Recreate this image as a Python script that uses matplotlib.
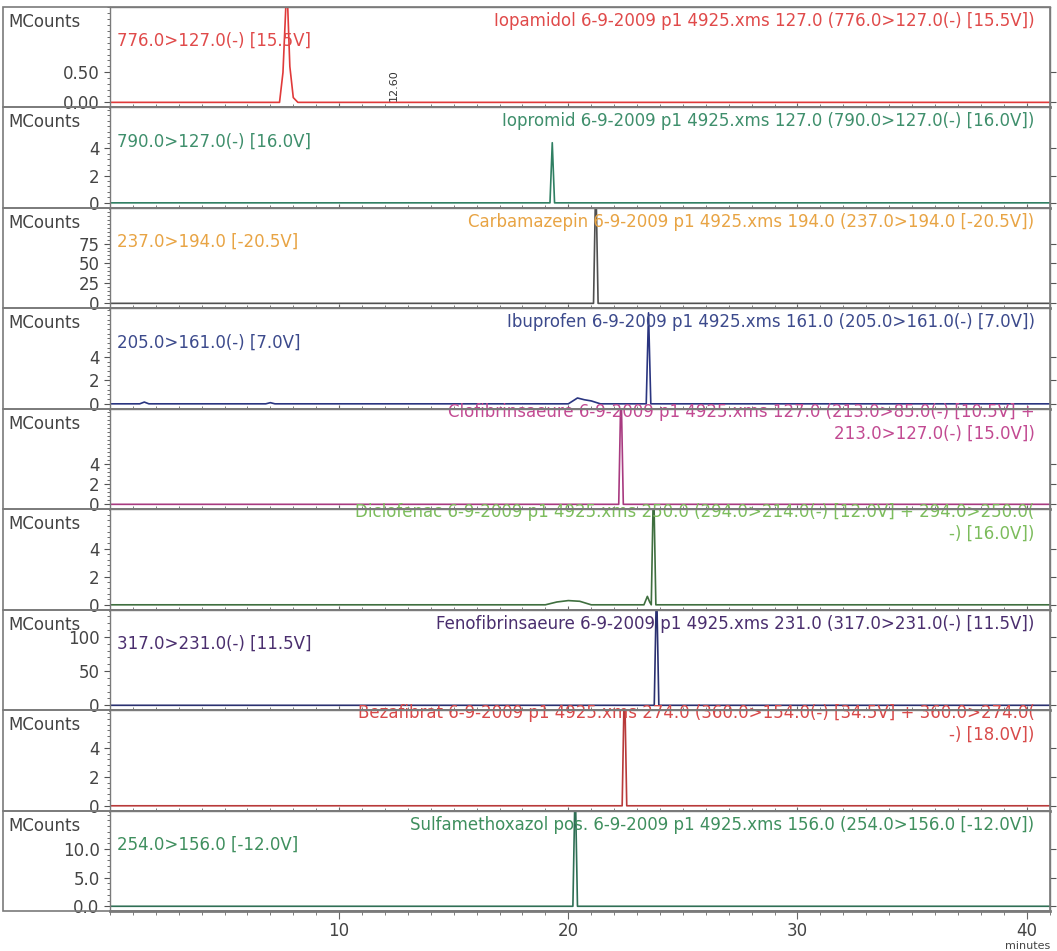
import matplotlib
matplotlib.use("Agg")
import matplotlib.pyplot as plt
from matplotlib.ticker import AutoMinorLocator, FixedLocator, MultipleLocator
from matplotlib.patches import Rectangle

plt.rcParams['font.family'] = ['DejaVu Sans']

titles = [
    "Iopamidol 6-9-2009 p1 4925.xms 127.0 (776.0>127.0(-) [15.5V])",
    "Iopromid 6-9-2009 p1 4925.xms 127.0 (790.0>127.0(-) [16.0V])",
    "Carbamazepin 6-9-2009 p1 4925.xms 194.0 (237.0>194.0 [-20.5V])",
    "Ibuprofen 6-9-2009 p1 4925.xms 161.0 (205.0>161.0(-) [7.0V])",
    "Clofibrinsaeure 6-9-2009 p1 4925.xms 127.0 (213.0>85.0(-) [10.5V] +\n213.0>127.0(-) [15.0V])",
    "Diclofenac 6-9-2009 p1 4925.xms 250.0 (294.0>214.0(-) [12.0V] + 294.0>250.0(\n-) [16.0V])",
    "Fenofibrinsaeure 6-9-2009 p1 4925.xms 231.0 (317.0>231.0(-) [11.5V])",
    "Bezafibrat 6-9-2009 p1 4925.xms 274.0 (360.0>154.0(-) [34.5V] + 360.0>274.0(\n-) [18.0V])",
    "Sulfamethoxazol pos. 6-9-2009 p1 4925.xms 156.0 (254.0>156.0 [-12.0V])",
]
channels = [
    "776.0>127.0(-) [15.5V]",
    "790.0>127.0(-) [16.0V]",
    "237.0>194.0 [-20.5V]",
    "205.0>161.0(-) [7.0V]",
    "",
    "",
    "317.0>231.0(-) [11.5V]",
    "",
    "254.0>156.0 [-12.0V]",
]
text_colors = ["#e04a4a", "#3f8f6c", "#e8a444", "#3c4a8c", "#c24a92",
               "#7cbc5c", "#4a2e6e", "#d84a4a", "#3f8f5e"]
line_colors = ["#e03a3a", "#2f7f62", "#505050", "#2a3580", "#a83a80",
               "#3f6f3f", "#2a3070", "#b83a3a", "#2f6f55"]

y_max = [1.6, 7.0, 120, 8.2, 9.5, 6.8, 140, 6.6, 16.7]
y_ticks = [[0, 0.5], [0, 2, 4], [0, 25, 50, 75], [0, 2, 4], [0, 2, 4],
           [0, 2, 4], [0, 50, 100], [0, 2, 4], [0, 5, 10]]
y_ticklabels = [["0.00", "0.50"], ["0", "2", "4"], ["0", "25", "50", "75"],
                ["0", "2", "4"], ["0", "2", "4"], ["0", "2", "4"],
                ["0", "50", "100"], ["0", "2", "4"], ["0.0", "5.0", "10.0"]]
x_ticks = [10, 20, 30, 40]

# trace points (minutes, MCounts)
times = [
    [0, 7.4, 7.55, 7.72, 7.85, 8.0, 8.2, 41],
    [0, 19.2, 19.3, 19.4, 41],
    [0, 21.1, 21.2, 21.3, 41],
    [0, 1.3, 1.5, 1.7, 6.8, 7.0, 7.2, 20.0, 20.4, 20.7, 21.0, 21.4, 23.4, 23.5, 23.6, 41],
    [0, 22.2, 22.3, 22.4, 41],
    [0, 19.0, 19.5, 20.0, 20.5, 21.0, 23.3, 23.45, 23.55, 23.62, 23.72, 23.82, 41],
    [0, 23.75, 23.85, 23.95, 41],
    [0, 22.35, 22.45, 22.55, 41],
    [0, 20.2, 20.3, 20.4, 41],
]
counts = [
    [0, 0, 0.5, 2.0, 0.6, 0.08, 0, 0],
    [0, 0, 4.4, 0, 0],
    [0, 0, 160, 0, 0],
    [0, 0, 0.15, 0, 0, 0.1, 0, 0, 0.5, 0.35, 0.25, 0, 0, 7.8, 0, 0],
    [0, 0, 12, 0, 0],
    [0, 0, 0.2, 0.3, 0.25, 0, 0, 0.6, 0.2, 0, 9, 0, 0],
    [0, 0, 180, 0, 0],
    [0, 0, 9, 0, 0],
    [0, 0, 22, 0, 0],
]

fig = plt.figure(figsize=(10.57, 9.51), dpi=100)
gs = fig.add_gridspec(9, 1, left=0.104, right=0.993, top=0.993, bottom=0.042, hspace=0.0)

frame_col = "#7a7a7a"
fs = 12
for i in range(9):
    ax = fig.add_subplot(gs[i])
    ax.plot(times[i], counts[i], color=line_colors[i], lw=1.2)
    ax.set_xlim(0, 41)
    ax.set_ylim(-0.05 * y_max[i], y_max[i])

    ax.yaxis.set_major_locator(FixedLocator(y_ticks[i]))
    ax.set_yticklabels(y_ticklabels[i])
    ax.yaxis.set_minor_locator(AutoMinorLocator(5))
    ax.xaxis.set_major_locator(FixedLocator(x_ticks))
    ax.xaxis.set_minor_locator(MultipleLocator(1))
    ax.tick_params(axis='y', which='both', left=True, right=True, labelsize=fs,
                   colors="#555555", labelcolor="#444444", direction='out')
    ax.tick_params(axis='y', which='major', length=4)
    ax.tick_params(axis='y', which='minor', length=2, right=False)

    last = i == 8
    ax.tick_params(axis='x', which='both', bottom=True, top=False,
                   direction='out' if last else 'in', colors="#666666",
                   labelbottom=last, labelsize=fs, labelcolor="#444444", pad=2)
    ax.tick_params(axis='x', which='major', length=6 if last else 3)
    ax.tick_params(axis='x', which='minor', length=3 if last else 2)

    for s in ax.spines.values():
        s.set_color(frame_col)
        s.set_linewidth(1.0)
    ax.spines['bottom'].set_linewidth(2.0)

    ax.text(0.984, 1 - 0.14, titles[i], transform=ax.transAxes, ha='right', va='center',
            color=text_colors[i], fontsize=fs, linespacing=1.25,
            multialignment='right')
    if channels[i]:
        ax.text(0.008, 1 - 0.34, channels[i], transform=ax.transAxes, ha='left',
                va='center', color=text_colors[i], fontsize=fs)
    ax.text(-0.108, 1 - 0.15, "MCounts", transform=ax.transAxes, ha='left', va='center',
            color="#444444", fontsize=fs)

    # outer frame of each panel including the label strip
    pos = ax.get_position()
    fig.add_artist(Rectangle((0.003, pos.y0), pos.x1 - 0.003, pos.height,
                             transform=fig.transFigure, fill=False,
                             edgecolor=frame_col, lw=1.2))

    if i == 0:
        ax.text(12.4, 0.02, "12.60", rotation=90, fontsize=8, color="#333333",
                ha='center', va='bottom')

fig.text(1050 / 1057, 1 - 946 / 951, "minutes", fontsize=8, color="#444444",
         ha='right', va='center')

fig.savefig("out.png", dpi=100)
